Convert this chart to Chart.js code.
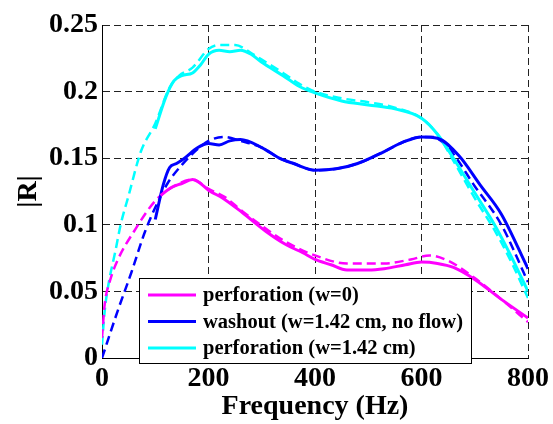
<!DOCTYPE html>
<html>
<head>
<meta charset="utf-8">
<script src="https://cdn.jsdelivr.net/npm/chart.js@4/dist/chart.umd.min.js"></script>
<style>
  html, body { margin: 0; padding: 0; background: #fff; }
</style>
</head>
<body>
<canvas id="rChart" width="553" height="424"></canvas>
<script>
// perforation (w=0) - measured (solid) and model (dashed)
const perfZeroF = [110, 130, 150, 170, 185, 200, 227, 264, 308, 346, 377, 400, 430, 460, 500, 530, 570, 600, 630, 660, 700, 750, 800];
const perfZeroR = [0.122, 0.128, 0.131, 0.134, 0.131, 0.126, 0.120, 0.109, 0.095, 0.085, 0.079, 0.074, 0.070, 0.066, 0.066, 0.067, 0.070, 0.072, 0.071, 0.068, 0.059, 0.044, 0.030];
const perfZeroModelF = [0, 5, 15, 30, 60, 100, 140, 170, 200, 230, 264, 308, 346, 400, 460, 530, 580, 615, 650, 700, 750, 800];
const perfZeroModelR = [0.015, 0.040, 0.058, 0.074, 0.095, 0.118, 0.130, 0.134, 0.127, 0.121, 0.110, 0.097, 0.087, 0.077, 0.071, 0.071, 0.074, 0.077, 0.073, 0.060, 0.044, 0.027];

// washout (w=1.42 cm, no flow)
const washF = [100, 115, 127, 140, 155, 180, 200, 220, 240, 260, 300, 333, 360, 400, 440, 480, 530, 565, 600, 630, 670, 710, 750, 800];
const washR = [0.104, 0.130, 0.143, 0.146, 0.150, 0.158, 0.161, 0.160, 0.163, 0.164, 0.158, 0.150, 0.146, 0.141, 0.142, 0.146, 0.155, 0.162, 0.166, 0.165, 0.152, 0.130, 0.108, 0.067];
const washModelF = [0, 30, 55, 80, 100, 123, 150, 180, 200, 230, 260, 300, 333, 360, 400, 440, 480, 530, 565, 600, 620, 650, 700, 750, 800];
const washModelR = [0, 0.036, 0.064, 0.094, 0.113, 0.131, 0.145, 0.157, 0.163, 0.166, 0.163, 0.158, 0.150, 0.146, 0.141, 0.142, 0.146, 0.155, 0.162, 0.166, 0.166, 0.158, 0.129, 0.100, 0.057];

// perforation (w=1.42 cm)
const perfWideF = [100, 120, 135, 150, 170, 185, 200, 220, 240, 260, 280, 300, 340, 370, 400, 450, 500, 550, 600, 630, 660, 700, 740, 770, 800];
const perfWideR = [0.172, 0.196, 0.208, 0.212, 0.214, 0.220, 0.228, 0.231, 0.230, 0.231, 0.228, 0.222, 0.212, 0.204, 0.199, 0.193, 0.190, 0.187, 0.180, 0.168, 0.150, 0.124, 0.098, 0.075, 0.050];
const perfWideModelF = [0, 5, 12, 25, 35, 50, 73, 100, 127, 145, 170, 200, 220, 250, 280, 300, 340, 370, 400, 450, 500, 550, 600, 630, 660, 700, 740, 770, 800];
const perfWideModelR = [0.010, 0.035, 0.055, 0.080, 0.100, 0.122, 0.155, 0.176, 0.203, 0.212, 0.218, 0.232, 0.235, 0.235, 0.229, 0.224, 0.214, 0.206, 0.200, 0.195, 0.192, 0.188, 0.180, 0.168, 0.148, 0.120, 0.094, 0.071, 0.045];

const xTicks = [0, 200, 400, 600, 800];
const yTicks = [0, 0.05, 0.1, 0.15, 0.2, 0.25];

const MAGENTA = "#ff00ff";
const BLUE = "#0000ff";
const CYAN = "#00ffff";
const FONT = "'Liberation Serif', 'Times New Roman', serif";

function pts(f, r) {
  return f.map((v, i) => ({ x: v, y: r[i] }));
}

function series(label, f, r, color, dashed) {
  return {
    label: label,
    data: pts(f, r),
    borderColor: color,
    backgroundColor: color,
    borderWidth: dashed ? 2.5 : 3,
    borderDash: dashed ? [9, 5] : [],
    pointRadius: 0,
    cubicInterpolationMode: "monotone",
    fill: false,
    inLegend: !dashed,
  };
}

// legend drawn as a white box inside the plot, like the matlab one
const boxLegend = {
  id: "boxLegend",
  afterDraw(chart) {
    const c = chart.ctx;
    const area = chart.chartArea;
    const x0 = area.left + 37;
    const y0 = area.bottom - 80;
    const w = 332;
    const h = 85;
    const items = chart.data.datasets.filter((d) => d.inLegend);
    c.save();
    c.fillStyle = "#fff";
    c.fillRect(x0, y0, w, h);
    c.strokeStyle = "#000";
    c.lineWidth = 1;
    c.strokeRect(x0 + 0.5, y0 + 0.5, w, h);
    c.font = "bold 20.5px " + FONT;
    c.textBaseline = "middle";
    items.forEach((d, i) => {
      const y = y0 + 17 + i * 26.5;
      c.strokeStyle = d.borderColor;
      c.lineWidth = 3;
      c.beginPath();
      c.moveTo(x0 + 9, y);
      c.lineTo(x0 + 57, y);
      c.stroke();
      c.fillStyle = "#000";
      c.fillText(d.label, x0 + 64, y + 1);
    });
    c.restore();
  },
};

new Chart(document.getElementById("rChart"), {
  type: "line",
  data: {
    datasets: [
      series("perforation (w=0)", perfZeroF, perfZeroR, MAGENTA, false),
      series("washout (w=1.42 cm, no flow)", washF, washR, BLUE, false),
      series("perforation (w=1.42 cm)", perfWideF, perfWideR, CYAN, false),
      series("perforation (w=0) model", perfZeroModelF, perfZeroModelR, MAGENTA, true),
      series("washout model", washModelF, washModelR, BLUE, true),
      series("perforation (w=1.42 cm) model", perfWideModelF, perfWideModelR, CYAN, true),
    ],
  },
  options: {
    responsive: false,
    animation: false,
    layout: { padding: { left: 0, right: 24, top: 25, bottom: 0 } },
    plugins: {
      legend: { display: false },
      tooltip: { enabled: false },
    },
    scales: {
      x: {
        type: "linear",
        min: 0,
        max: 800,
        afterBuildTicks: (axis) => {
          axis.ticks = xTicks.map((v) => ({ value: v }));
        },
        afterFit: (axis) => {
          axis.height = 66;
        },
        ticks: {
          color: "#000",
          font: { family: FONT, size: 28, weight: "bold" },
          padding: 4,
          maxRotation: 0,
        },
        grid: {
          color: "#222",
          lineWidth: 1,
          drawTicks: false,
        },
        border: { display: true, color: "#000", width: 1, dash: [7, 4] },
        title: {
          display: true,
          text: "Frequency (Hz)",
          color: "#000",
          font: { family: FONT, size: 28, weight: "bold" },
          padding: { top: -3, bottom: 0 },
        },
      },
      y: {
        type: "linear",
        min: 0,
        max: 0.25,
        afterBuildTicks: (axis) => {
          axis.ticks = yTicks.map((v) => ({ value: v }));
        },
        afterFit: (axis) => {
          axis.width = 102;
        },
        ticks: {
          color: "#000",
          font: { family: FONT, size: 28, weight: "bold" },
          padding: 4,
          callback: (v) => String(+v.toFixed(2)),
        },
        grid: {
          color: "#222",
          lineWidth: 1,
          drawTicks: false,
        },
        border: { display: true, color: "#000", width: 1, dash: [7, 4] },
        title: {
          display: true,
          text: "|R|",
          color: "#000",
          font: { family: FONT, size: 28, weight: "bold" },
          padding: { top: 12, bottom: 0 },
        },
      },
    },
  },
  plugins: [boxLegend],
});
</script>
</body>
</html>
